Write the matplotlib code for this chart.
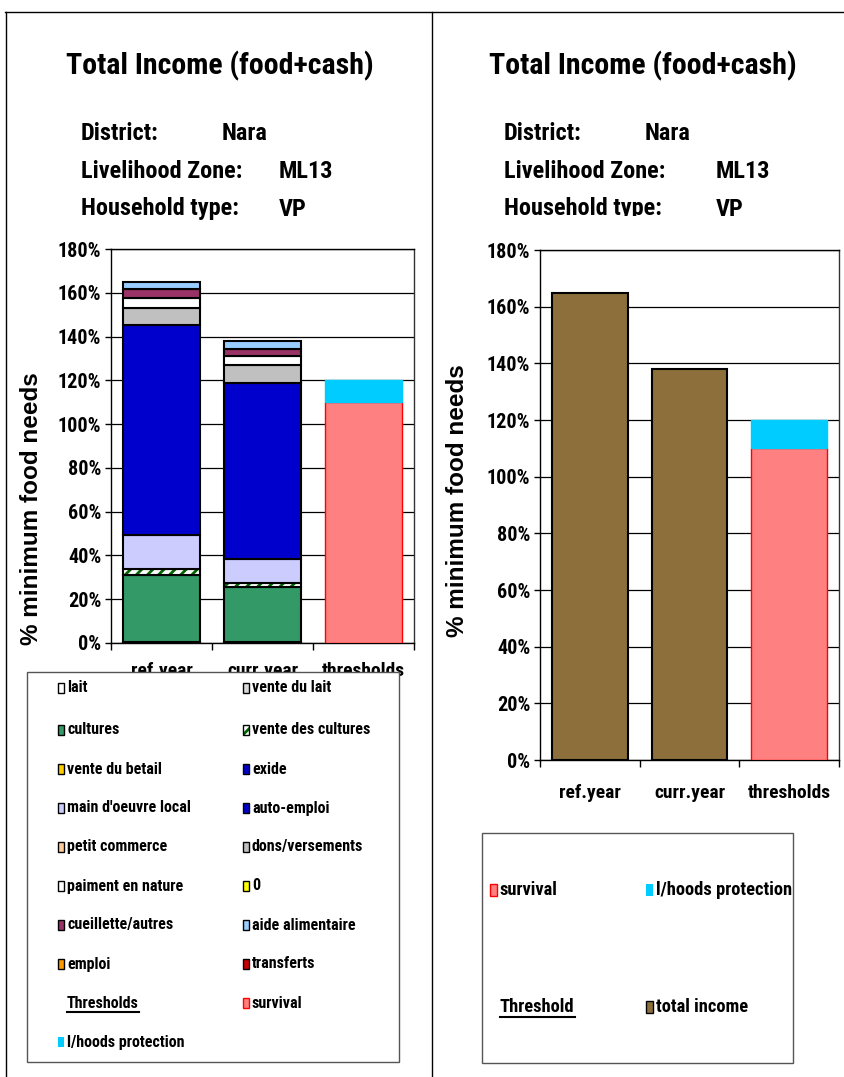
import numpy as np
import matplotlib
matplotlib.use('Agg')
import matplotlib.pyplot as plt
from matplotlib.patches import Rectangle
from matplotlib.lines import Line2D

W, H = 844, 1077
NARROW = ['Roboto Condensed', 'Asap Condensed', 'DejaVu Sans']
WIDE = ['Liberation Sans', 'DejaVu Sans']
plt.rcParams['hatch.linewidth'] = 2.0

# data
categories = ['ref.year', 'curr.year', 'thresholds']
sources = ['lait', 'vente du lait', 'cultures', 'vente des cultures',
           'vente du betail', 'exide', "main d'oeuvre local", 'auto-emploi',
           'petit commerce', 'dons/versements', 'paiment en nature', '0',
           'cueillette/autres', 'aide alimentaire', 'emploi', 'transferts']
ref_year = [0.5, 0, 30.6, 2.8, 0, 0, 15.4, 96.1, 0, 7.6, 4.6, 0, 4.1, 3.2, 0, 0]
curr_year = [0.5, 0, 25.3, 1.5, 0, 0, 11.3, 80.4, 0, 7.8, 4.4, 0, 3.2, 3.5, 0, 0]
source_colors = ['#ffffff', '#d9d9d9', '#339966', '#ffffff', '#ffcc00', '#0000cc',
                 '#ccccff', '#0000cc', '#ffcc99', '#c0c0c0', '#ffffff', '#ffff00',
                 '#993366', '#99ccff', '#ff9900', '#cc0000']
source_hatch = [None, None, None, '///', None, None, None, None,
                None, None, None, None, None, None, None, None]
threshold_names = ['survival', 'l/hoods protection']
threshold_values = [110, 10]
threshold_colors = ['#ff8080', '#00ccff']
total_color = '#8c6f3a'
yticks = list(range(0, 181, 20))

title = 'Total Income (food+cash)'
info = [('District:', 'Nara'), ('Livelihood Zone:', 'ML13'), ('Household type:', 'VP')]


def fx(x):
    return x / W


def fy(y):
    return 1 - y / H


def rect(x0, y0, x1, y1):
    return [fx(x0), fy(y1), (x1 - x0) / W, (y1 - y0) / H]


def style_axes(ax, xpad):
    ax.set_ylim(0, 180)
    ax.set_xlim(-0.5, 2.5)
    ax.set_yticks(yticks)
    ax.set_yticklabels([f'{v}%' for v in yticks], fontfamily=NARROW,
                       fontweight='bold', fontsize=14.5)
    ax.set_xticks(range(3))
    ax.set_xticklabels(categories, fontfamily=NARROW, fontweight='bold', fontsize=14)
    ax.set_xticks([-0.5, 0.5, 1.5, 2.5], minor=True)
    ax.tick_params(axis='x', which='major', length=0, pad=xpad)
    ax.tick_params(axis='x', which='minor', length=5, width=1, direction='out')
    ax.tick_params(axis='y', length=4, width=1, direction='out', pad=3)
    ax.yaxis.grid(True, color='black', lw=0.9)
    ax.set_axisbelow(True)
    for s in ax.spines.values():
        s.set_color('black')
        s.set_linewidth(1)
    ax.spines['right'].set_color('#333333')


def draw_thresholds(ax, width):
    bottom = 0
    for name, val, col in zip(threshold_names, threshold_values, threshold_colors):
        ec = '#ff0000' if name == 'survival' else col
        ax.bar(2, val, width, bottom=bottom, color=col, edgecolor=ec, lw=1, zorder=3)
        bottom += val


fig = plt.figure(figsize=(W / 100, H / 100), dpi=100)

# frame lines of the two panels
fig.add_artist(Line2D([fx(5), 1], [fy(12), fy(12)], color='black', lw=1))
fig.add_artist(Line2D([fx(6), fx(6)], [fy(12), 0], color='black', lw=1))
fig.add_artist(Line2D([fx(432), fx(432)], [fy(12), 0], color='black', lw=1))

# titles and info block
for cx, x1, x2, x3 in [(220, 81, 222, 279), (643, 504, 645, 716)]:
    fig.text(fx(cx), fy(66), title, ha='center', va='center', fontfamily=NARROW,
             fontweight='bold', fontsize=21.5)
    for (lab, val), y in zip(info, [133, 171, 209]):
        fig.text(fx(x1), fy(y), lab, va='center', fontfamily=NARROW,
                 fontweight='bold', fontsize=17.5, zorder=0.5)
        fig.text(fx(x2 if lab == 'District:' else x3), fy(y), val, va='center',
                 fontfamily=NARROW, fontweight='bold', fontsize=17.5, zorder=0.5)

# left chart: stacked sources
ax1 = fig.add_axes(rect(111, 249, 414, 643))
bw = 0.77
bottoms = np.zeros(2)
for name, r, c, col, h in zip(sources, ref_year, curr_year, source_colors, source_hatch):
    vals = np.array([r, c])
    if vals.sum() == 0:
        continue
    if h:
        ax1.bar([0, 1], vals, bw, bottom=bottoms, color='white', edgecolor='#006600',
                hatch=h, lw=0, zorder=3)
        ax1.bar([0, 1], vals, bw, bottom=bottoms, fill=False, edgecolor='black',
                lw=1.5, zorder=3)
    else:
        ax1.bar([0, 1], vals, bw, bottom=bottoms, color=col, edgecolor='black',
                lw=1.5, zorder=3)
    bottoms += vals
draw_thresholds(ax1, bw)
style_axes(ax1, 14)

# right chart: totals
ax2 = fig.add_axes(rect(540, 250, 839, 760))
ax2.set_zorder(2)
totals = [sum(ref_year), sum(curr_year)]
ax2.bar([0, 1], totals, 0.76, color=total_color, edgecolor='black', lw=1.5, zorder=3)
draw_thresholds(ax2, 0.76)
style_axes(ax2, 17)

# y labels
for x, y in [(32, 509), (458, 501)]:
    fig.text(fx(x), fy(y), '% minimum food needs', rotation=90, ha='center',
             va='center', fontfamily=WIDE, fontweight='bold', fontsize=17.5)

# plot-area top of the right chart hides the bottom of the info text
fig.add_artist(Rectangle((fx(440), fy(250)), fx(398), 34 / H, facecolor='white',
                         edgecolor='none', zorder=1))

# left legend box
fig.add_artist(Rectangle((fx(27), fy(1062)), fx(372), 390 / H, facecolor='white',
                         edgecolor='#555555', lw=1, zorder=2))
entries = [(n, col, h) for n, col, h in zip(sources, source_colors, source_hatch)]
entries += [('Thresholds', None, None), (threshold_names[0], threshold_colors[0], None),
            (threshold_names[1], threshold_colors[1], None)]
row_y = [688, 730, 769, 808, 847, 886, 925, 964, 1003, 1042]
under = []
for i, (name, col, h) in enumerate(entries):
    x = 58 if i % 2 == 0 else 243
    y = row_y[i // 2]
    if col is None:
        t = fig.text(fx(x + 9), fy(y), name, va='center', fontfamily=NARROW,
                     fontweight='bold', fontsize=11.5, zorder=4)
        under.append(t)
        continue
    ec = 'none' if name == 'l/hoods protection' else ('#ff0000' if name == 'survival' else 'black')
    if h:
        fig.add_artist(Rectangle((fx(x), fy(y + 5)), fx(6), 10 / H, facecolor='white',
                                 edgecolor='#006600', hatch=h, lw=0, zorder=3))
        fig.add_artist(Rectangle((fx(x), fy(y + 5)), fx(6), 10 / H, fill=False,
                                 edgecolor='black', lw=1, zorder=3))
    else:
        fig.add_artist(Rectangle((fx(x), fy(y + 5)), fx(6), 10 / H, facecolor=col,
                                 edgecolor=ec, lw=1, zorder=3))
    fig.text(fx(x + 9), fy(y), name, va='center', fontfamily=NARROW,
             fontweight='bold', fontsize=11.5, zorder=4)

# right legend box
fig.add_artist(Rectangle((fx(482), fy(1063)), fx(311), 230 / H, facecolor='white',
                         edgecolor='#555555', lw=1, zorder=2))
r_entries = [(threshold_names[0], threshold_colors[0], 490, 890),
             (threshold_names[1], threshold_colors[1], 646, 890),
             ('Threshold', None, 490, 1007),
             ('total income', total_color, 646, 1007)]
for name, col, x, y in r_entries:
    if col is None:
        t = fig.text(fx(x + 10), fy(y), name, va='center', fontfamily=NARROW,
                     fontweight='bold', fontsize=13.3, zorder=4)
        under.append(t)
        continue
    ec = 'none' if name == 'l/hoods protection' else ('#ff0000' if name == 'survival' else 'black')
    fig.add_artist(Rectangle((fx(x), fy(y + 6)), fx(7), 12 / H, facecolor=col,
                             edgecolor=ec, lw=1, zorder=3))
    fig.text(fx(x + 10), fy(y), name, va='center', fontfamily=NARROW,
             fontweight='bold', fontsize=13.3, zorder=4)

# underline the threshold headers
fig.canvas.draw()
rend = fig.canvas.get_renderer()
for t in under:
    bb = t.get_window_extent(rend)
    yy = bb.y0 - 1
    fig.add_artist(Line2D([bb.x0 / W, bb.x1 / W], [yy / H, yy / H], color='black',
                          lw=1.5, zorder=4))

fig.savefig('out.png', dpi=100)
